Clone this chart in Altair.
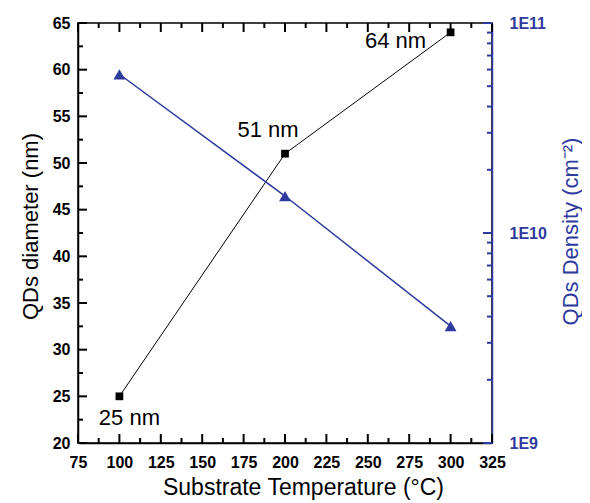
import altair as alt
import pandas as pd

# ---- data ----
temps = [100, 200, 300]
diameter = [25, 51, 64]
density = [5.7e10, 1.5e10, 3.6e9]
size_labels = ["25 nm", "51 nm", "64 nm"]

x_major = [75, 100, 125, 150, 175, 200, 225, 250, 275, 300, 325]
x_minor = [87.5, 112.5, 137.5, 162.5, 187.5, 212.5, 237.5, 262.5, 287.5, 312.5]
yl_major = [20, 25, 30, 35, 40, 45, 50, 55, 60, 65]
yl_minor = [22.5, 27.5, 32.5, 37.5, 42.5, 47.5, 52.5, 57.5, 62.5]
yr_major = [1e9, 1e10, 1e11]
yr_minor = [2e9, 3e9, 4e9, 5e9, 6e9, 7e9, 8e9, 9e9,
            2e10, 3e10, 4e10, 5e10, 6e10, 7e10, 8e10, 9e10]

df = pd.DataFrame({"T": temps, "D": diameter, "N": density, "label": size_labels})

W, H = 414, 420
BLUE = "#2E3A9E"
FONT = "Liberation Sans"
MAJ, MIN = 9, 5

xs = alt.Scale(domain=[75, 325], nice=False, zero=False)
yls = alt.Scale(domain=[20, 65], nice=False, zero=False)
yrs = alt.Scale(type="log", domain=[1e9, 1e11], nice=False)

lab = dict(labelFont=FONT, labelFontWeight="bold", labelFontSize=16, labelFlush=False,
           labelOverlap=False, ticks=False)

ax_x_bottom = alt.Axis(orient="bottom", values=x_major, labelPadding=11,
                       domainColor="black", domainWidth=1.5, labelColor="black",
                       title="Substrate Temperature (°C)", titleColor="black",
                       titlePadding=6, titleX=225, titleFont=FONT,
                       titleFontWeight="normal", titleFontSize=23, **lab)
ax_y_left = alt.Axis(orient="left", values=yl_major, labelPadding=8,
                     domainColor="black", domainWidth=1.5, labelColor="black",
                     title="QDs diameter (nm)", titleColor="black", titlePadding=10,
                     titleY=203, titleFont=FONT, titleFontWeight="normal",
                     titleFontSize=22, **lab)
ax_y_right = alt.Axis(orient="right", values=yr_major, labelPadding=17,
                      domainColor=BLUE, domainWidth=1.5, labelColor=BLUE,
                      labelExpr="datum.value >= 1e11 ? '1E11' : datum.value >= 1e10 ? '1E10' : '1E9'",
                      title="QDs Density (cm⁻²)", titleColor=BLUE, titleAngle=270,
                      titleBaseline="top", titlePadding=14, titleY=208, titleFont=FONT,
                      titleFontWeight="normal", titleFontSize=22, **lab)

base = alt.Chart(df)


# inward tick marks, placed by the scales
def xticks(values, length, at_top):
    d = pd.DataFrame({"v": values})
    y0 = 0 if at_top else H
    y1 = length if at_top else H - length
    return alt.Chart(d).mark_rule(color="black", strokeWidth=2, opacity=1).encode(
        x=alt.X("v:Q", scale=xs, axis=None), y=alt.value(y0), y2=alt.value(y1))


def yticks(values, length, scale, color, at_right):
    d = pd.DataFrame({"v": values})
    x0 = W if at_right else 0
    x1 = W - length if at_right else length
    return alt.Chart(d).mark_rule(color=color, strokeWidth=2, opacity=1).encode(
        y=alt.Y("v:Q", scale=scale, axis=None), x=alt.value(x0), x2=alt.value(x1))


tick_layers = [
    xticks(x_major, MAJ, False), xticks(x_minor, MIN, False),
    xticks(x_major, MAJ, True), xticks(x_minor, MIN, True),
    yticks(yl_major, MAJ, yls, "black", False), yticks(yl_minor, MIN, yls, "black", False),
    yticks(yr_major, MAJ, yrs, BLUE, True), yticks(yr_minor, MIN, yrs, BLUE, True),
]

black_line = base.mark_line(color="black", strokeWidth=1).encode(
    x=alt.X("T:Q", scale=xs, axis=ax_x_bottom),
    y=alt.Y("D:Q", scale=yls, axis=ax_y_left),
)
black_pts = base.mark_square(size=60, color="black", opacity=1).encode(
    x=alt.X("T:Q", scale=xs, axis=None),
    y=alt.Y("D:Q", scale=yls, axis=None),
)


def label_layer(name, dx, dy):
    return base.transform_filter(alt.datum.label == name).mark_text(
        font=FONT, fontSize=22, color="black", dx=dx, dy=dy, align="center",
        baseline="middle"
    ).encode(
        x=alt.X("T:Q", scale=xs, axis=None),
        y=alt.Y("D:Q", scale=yls, axis=None),
        text="label:N",
    )


t25 = label_layer("25 nm", 10, 22)
t51 = label_layer("51 nm", -17, -24)
t64 = label_layer("64 nm", -55, 9)

blue_line = base.mark_line(color=BLUE, strokeWidth=1.5).encode(
    x=alt.X("T:Q", scale=xs, axis=None),
    y=alt.Y("N:Q", scale=yrs, axis=ax_y_right),
)
blue_pts = base.mark_point(shape="triangle-up", filled=True, size=140, color=BLUE,
                           opacity=1).encode(
    x=alt.X("T:Q", scale=xs, axis=None),
    y=alt.Y("N:Q", scale=yrs, axis=None),
)

chart = alt.layer(
    black_line, blue_line, *tick_layers,
    black_pts, t25, t51, t64, blue_pts,
).resolve_scale(y="independent").resolve_axis(x="independent", y="independent").properties(
    width=W, height=H,
    autosize=alt.AutoSizeParams(type="none"),
    padding={"left": 70, "top": 15, "right": 90, "bottom": 57},
).configure_view(stroke="black", strokeWidth=1.5).configure_axis(grid=False)

chart.save("out.html", embed_options={"renderer": "svg", "actions": False})
